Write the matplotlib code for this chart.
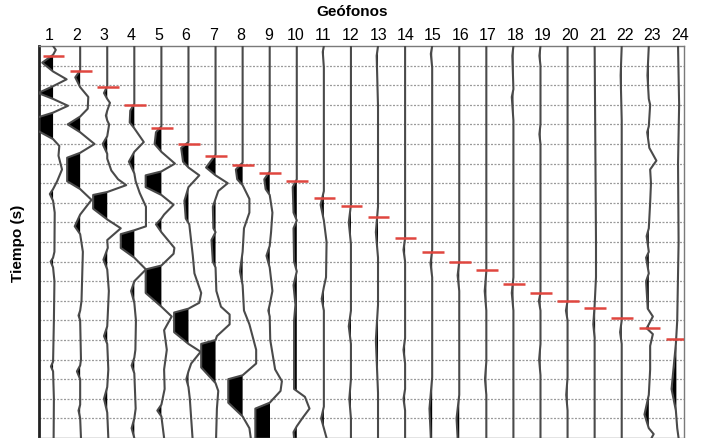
import numpy as np
import matplotlib
matplotlib.use('Agg')
import matplotlib.pyplot as plt

plt.rcParams['font.family'] = ['Liberation Sans', 'DejaVu Sans']

# geophone numbers and first-break picks (time in grid units, 0 = top)
geophones = list(range(1, 25))
picks = [0.51, 1.28, 2.09, 3.01, 4.18, 5.0, 5.61, 6.07, 6.48, 6.89, 7.76, 8.16,
         8.72, 9.80, 10.51, 11.02, 11.43, 12.14, 12.60, 13.01, 13.37, 13.88,
         14.39, 14.95]

# wiggle nodes per trace: (time, amplitude in trace spacings, negative = left / filled)
wiggles = [
    [(0, 0), (0.2, 0.1), (0.45, 0), (0.85, -0.4), (1.3, 0), (1.7, 0.5), (2.05, 0),
     (2.4, -0.55), (2.7, 0), (3.05, 0.55), (3.4, 0), (3.7, -0.7), (4.3, -0.6),
     (4.75, 0), (5.1, 0.23), (5.6, 0.2), (6.3, 0.33), (6.9, 0.15), (7.3, 0),
     (7.55, -0.12), (7.9, 0), (8.5, 0.06), (10.5, 0.05), (10.8, 0), (11.0, -0.09),
     (11.3, 0), (12, 0.05), (14, 0.03), (16.1, 0), (16.35, -0.08), (16.6, 0),
     (18, 0.03), (20, 0.02)],
    [(0, 0), (1.25, 0), (1.6, -0.18), (2.1, 0), (2.6, 0.3), (3.2, 0.28), (3.6, 0),
     (4.0, -0.46), (4.4, 0), (5.0, 0.53), (5.45, 0), (5.7, -0.48), (6.9, -0.48),
     (7.3, 0), (7.85, 0.42), (8.6, 0), (9.2, -0.2), (9.6, 0), (10.5, 0.1),
     (13.0, 0.05), (13.5, 0), (13.75, -0.06), (14.0, 0), (16.0, 0.03), (16.3, 0),
     (16.6, -0.12), (17.0, 0), (18.3, 0), (18.6, -0.06), (19, 0), (20, 0.03)],
    [(0, 0), (2.05, 0), (2.4, -0.12), (2.7, 0), (2.9, 0.1), (3.3, 0), (3.55, -0.05),
     (3.8, 0), (4.0, 0.07), (4.6, 0), (5.0, -0.17), (5.5, 0), (5.75, 0),
     (6.35, 0.15), (6.8, 0.4), (7.1, 0.7), (7.45, 0), (7.6, -0.52), (8.3, -0.52),
     (8.85, 0), (9.3, 0.5), (9.9, 0), (10.3, 0.02), (10.9, -0.14), (11.4, 0),
     (12.5, 0.06), (14.3, 0), (14.8, -0.12), (15.2, 0), (16.5, 0.04), (17.4, 0),
     (18.0, -0.12), (18.7, 0), (20, 0.04)],
    [(0, 0), (2.95, 0), (3.3, -0.15), (3.9, -0.17), (4.2, 0), (4.9, 0.35), (5.4, 0),
     (5.9, -0.2), (6.5, 0), (6.9, 0.05), (7.5, 0.2), (8.2, 0.43), (9.2, 0.43),
     (9.4, 0), (9.6, -0.5), (10.3, -0.5), (10.8, 0), (11.4, 0.43), (12.0, 0),
     (12.5, -0.12), (13.1, 0), (14, 0.06), (15.5, 0.04), (15.9, 0), (16.3, -0.1),
     (16.7, 0), (18.5, 0.05), (19.0, 0), (19.5, -0.1), (20, 0)],
    [(0, 0), (4.1, 0), (4.4, -0.2), (5.0, -0.25), (5.4, 0), (6.0, 0.5), (6.4, 0),
     (6.6, -0.58), (7.2, -0.58), (7.6, 0), (8.1, 0.45), (8.6, 0.1), (8.8, 0),
     (9.1, -0.2), (9.5, 0), (10.3, 0.48), (10.6, 0.45), (11.2, 0), (11.4, -0.58),
     (12.6, -0.58), (13.3, 0), (13.8, 0.38), (14.5, 0.1), (15.5, 0.2),
     (16.5, 0.1), (17.5, 0.12), (18.3, 0), (18.6, -0.15), (18.9, 0), (20, 0.1)],
    [(0, 0), (4.9, 0), (5.2, -0.27), (5.9, -0.2), (6.2, 0), (6.6, 0.4), (7.2, 0),
     (7.9, -0.15), (8.8, -0.1), (9.1, 0.03), (10.7, 0.16), (11.6, 0.22),
     (12.6, 0.47), (13.1, 0.4), (13.4, 0), (13.6, -0.53), (14.6, -0.53),
     (15.2, 0), (15.6, 0.45), (16.2, 0.1), (16.6, 0), (17.0, -0.08), (17.4, 0),
     (18, 0.05), (20, 0.15)],
    [(0, 0), (5.55, 0), (6.2, -0.35), (6.6, 0), (7.0, 0.45), (7.4, 0.1), (7.8, 0),
     (8.2, -0.1), (9.3, -0.08), (9.5, 0), (9.9, -0.15), (11.0, -0.1), (11.3, 0),
     (12.5, 0.03), (13.3, 0.2), (13.7, 0.52), (14.2, 0.52), (14.8, 0.05),
     (15.0, 0), (15.2, -0.53), (16.4, -0.53), (17.2, 0), (17.6, 0.1),
     (18.5, 0.05), (20, 0.02)],
    [(0, 0), (5.95, 0), (6.3, -0.25), (6.8, -0.2), (7.1, 0), (7.8, 0.25),
     (8.5, 0.25), (9.3, 0.05), (10.5, 0), (11.5, -0.1), (12.2, 0), (13.5, 0.05),
     (14.2, 0.25), (15.5, 0.5), (16.2, 0.5), (16.8, 0), (17.0, -0.53),
     (18.2, -0.53), (18.9, 0), (19.5, 0.25), (20, 0.3)],
    [(0, 0), (6.4, 0), (6.8, -0.2), (7.3, -0.15), (7.6, 0), (8.5, 0.1), (9.5, 0.05),
     (10.2, 0), (10.7, -0.12), (11.3, 0), (12.5, 0.1), (13.2, 0), (13.5, -0.05),
     (13.8, 0), (15.0, 0.02), (16.5, 0.2), (17.1, 0.45), (17.6, 0.4), (18.2, 0),
     (18.5, -0.53), (20, -0.53)],
    [(0, 0), (6.8, 0), (7.2, -0.15), (8.5, -0.12), (8.9, 0), (9.3, -0.12),
     (11.0, -0.1), (11.5, 0), (12.2, -0.12), (13.2, -0.05), (14, -0.1),
     (17.5, -0.1), (17.9, 0.3), (18.5, 0.47), (19.0, 0.2), (19.4, 0),
     (19.7, -0.12), (20, -0.1)],
    [(0, 0), (0.3, -0.04), (1.1, 0), (7.4, 0), (8.1, -0.12), (8.9, 0), (10, 0.1),
     (11.8, 0.08), (12.3, 0), (12.9, -0.08), (13.5, 0), (18.4, 0), (19.0, -0.1),
     (19.5, 0), (20, 0.1)],
    [(0, 0), (8.1, 0), (9.0, -0.08), (10.1, 0), (13.5, 0), (14.3, -0.08),
     (15.2, 0), (17.0, 0), (18.0, -0.06), (19, 0), (20, 0)],
    [(0, 0), (0.5, -0.05), (3.1, 0), (8.2, 0), (9.5, -0.08), (10.8, 0), (13.2, 0),
     (15.0, -0.08), (17.7, 0), (20, 0)],
    [(0, 0), (9.8, 0), (10.4, -0.06), (11.0, 0), (14.9, 0), (15.5, -0.06),
     (16.2, 0), (17.5, 0), (18.0, -0.06), (18.6, 0), (20, 0)],
    [(0, 0), (0.4, -0.05), (1.1, 0), (10.4, 0), (11.1, -0.06), (11.8, 0),
     (16.9, 0), (18.5, -0.1), (20, -0.05)],
    [(0, 0), (11.0, 0), (11.7, -0.06), (12.5, 0), (17.8, 0), (19.0, -0.1),
     (20, -0.06)],
    [(0, 0), (11.5, 0), (12.5, -0.06), (13.5, 0), (16.1, 0), (17.0, -0.05),
     (17.8, 0), (20, 0)],
    [(0, 0), (0.5, -0.04), (2.2, 0), (2.6, -0.06), (3.8, 0), (11.8, 0),
     (12.6, -0.06), (13.5, 0), (20, 0)],
    [(0, 0), (0.5, -0.04), (1.0, 0), (4.0, 0), (4.5, -0.04), (5.0, 0), (12.6, 0),
     (13.0, -0.06), (13.5, 0), (15.2, 0), (16.0, -0.05), (16.8, 0), (20, 0)],
    [(0, 0), (13.0, 0), (13.5, -0.06), (14.0, 0), (16.9, 0), (17.8, -0.05),
     (18.6, 0), (20, 0)],
    [(0, 0), (10.0, 0.05), (11.8, 0.05), (13.2, 0), (14.2, -0.05), (14.9, 0),
     (20, 0)],
    [(0, 0), (1.5, -0.04), (3.8, 0), (14.0, 0), (14.6, -0.06), (15.2, 0), (20, 0)],
    [(0, 0), (1.5, -0.05), (2.7, 0), (3.0, 0.05), (4.1, 0), (4.4, -0.06),
     (5.2, 0.02), (5.85, 0.28), (6.3, 0.05), (7.0, 0.08), (8.0, 0.05), (9.3, 0),
     (9.7, -0.08), (10.5, 0), (10.8, -0.1), (11.6, 0), (12.0, -0.1), (13.4, -0.04),
     (13.8, 0.15), (14.2, 0), (14.4, -0.08), (14.7, 0.15), (15.3, 0.05),
     (16.5, 0.05), (17.8, 0), (18.8, -0.16), (19.5, 0), (19.8, 0.18), (20, 0.1)],
    [(0, 0.08), (3.0, 0.12), (6.0, 0.08), (10.0, 0.1), (14.0, 0.05), (15.2, 0),
     (17.5, -0.16), (18.6, 0), (19.5, 0.05), (20, 0.1)],
]

fig = plt.figure(figsize=(7.04, 4.39), dpi=100)
ax = fig.add_axes([39 / 704, 0, 645 / 704, 392 / 439])

# horizontal dashed time lines
for t in range(1, 20):
    ax.axhline(t, color='#9a9a9a', lw=0.9, ls=(0, (1.6, 1.2)), zorder=1)

for k, nodes in zip(geophones, wiggles):
    t = np.array([n[0] for n in nodes])
    a = np.array([n[1] for n in nodes])
    x = k + a
    ax.fill_betweenx(t, k, x, where=a < 0, interpolate=True, color='black',
                     lw=0, zorder=2)
    ax.plot(x, t, color='#4a4a4a', lw=1.5, zorder=3)

for k, p in zip(geophones, picks):
    ax.plot([k - 0.38, k + 0.42], [p, p], color='#e0463f', lw=1.8, zorder=4,
            solid_capstyle='butt')

ax.set_xlim(0.48, 24.3)
ax.set_ylim(20, 0)
ax.set_yticks([])
label_pos = np.linspace(0.85, 24.15, len(geophones))
ax.set_xticks(label_pos)
ax.set_xticklabels([str(g) for g in geophones], fontsize=11.5)
ax.xaxis.tick_top()
ax.tick_params(axis='x', length=0, pad=3)

for side in ['top', 'right', 'bottom']:
    ax.spines[side].set_color('#7a7a7a')
    ax.spines[side].set_linewidth(1.0)
ax.spines['left'].set_color('#222222')
ax.spines['left'].set_linewidth(2.0)

fig.text(352 / 704, 1 - 12 / 439, 'Geófonos', ha='center', va='center',
         fontsize=11, fontweight='bold')
fig.text(18 / 704, 1 - 243 / 439, 'Tiempo (s)', ha='center', va='center',
         rotation=90, fontsize=11, fontweight='bold')

fig.savefig('out.png', dpi=100)
